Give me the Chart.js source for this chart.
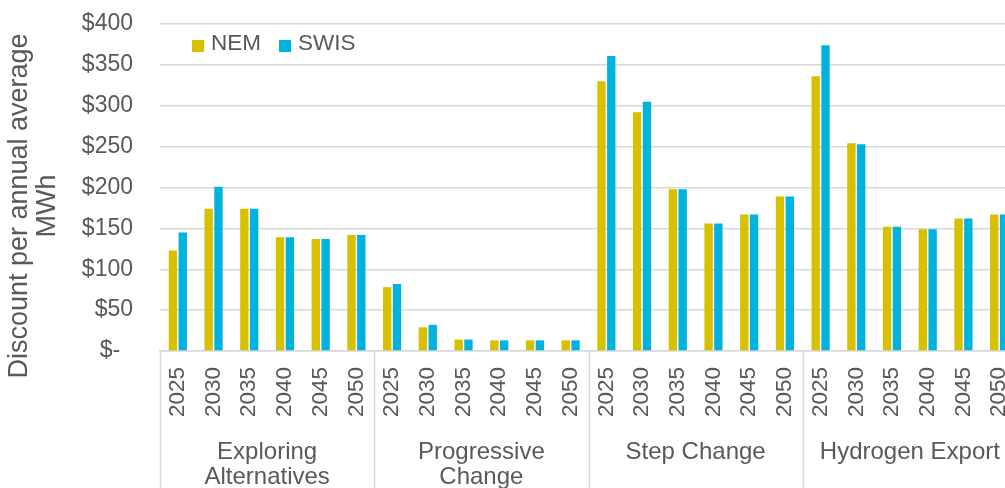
<!DOCTYPE html>
<html>
<head>
<meta charset="utf-8">
<script src="https://cdn.jsdelivr.net/npm/chart.js@4.4.1/dist/chart.umd.min.js"></script>
<style>
  html, body { margin: 0; padding: 0; background: #fff; overflow: hidden; }
  #wrap { width: 1017px; height: 494px; }
</style>
</head>
<body>
<div id="wrap"><canvas id="barPlot" width="1017" height="494"></canvas></div>
<script>
// Scenarios and the years shown under each one
const groups = [['Exploring', 'Alternatives'], ['Progressive', 'Change'], 'Step Change', 'Hydrogen Export']
const years = ['2025', '2030', '2035', '2040', '2045', '2050']

// Discount per annual average MWh, one value per scenario/year
const nem = [123, 174, 174, 139, 137, 142,
             78, 29, 14, 13, 13, 13,
             330, 292, 198, 156, 167, 189,
             336, 254, 152, 149, 162, 167]
const swis = [145, 201, 174, 139, 137, 142,
              82, 32, 14, 13, 13, 13,
              361, 305, 198, 156, 167, 189,
              374, 253, 152, 149, 162, 167]

const yTicks = [0, 50, 100, 150, 200, 250, 300, 350, 400]
const yTitle = ['Discount per annual average', 'MWh']

const textColor = '#595959'
const lineColor = '#d9d9d9'
const fontFamily = '"Liberation Sans", Arial, sans-serif'

const labels = groups.flatMap(() => years)

// Vertical separators between scenarios, under the axis
const separators = {
    id: 'separators',
    afterDraw (chart) {
        const x = chart.scales.x
        const ctx = chart.ctx
        const top = chart.chartArea.bottom
        ctx.save()
        ctx.strokeStyle = lineColor
        ctx.lineWidth = 1.5
        for (let g = 0; g <= groups.length; g++) {
            const px = Math.round(x.getPixelForValue(g * years.length - 0.5)) + 0.5
            ctx.beginPath()
            ctx.moveTo(px, top)
            ctx.lineTo(px, chart.height)
            ctx.stroke()
        }
        ctx.restore()
    }
}

// Legend drawn inside the plot, top left
const innerLegend = {
    id: 'innerLegend',
    afterDraw (chart) {
        const ctx = chart.ctx
        ctx.save()
        ctx.font = '22.5px ' + fontFamily
        ctx.textBaseline = 'middle'
        let px = 192
        const py = 46
        chart.data.datasets.forEach((ds) => {
            ctx.fillStyle = ds.backgroundColor
            ctx.fillRect(px, py - 6, 12, 12)
            ctx.fillStyle = textColor
            ctx.fillText(ds.label, px + 19, py - 2)
            px += 19 + ctx.measureText(ds.label).width + 18
        })
        ctx.restore()
    }
}

// Rotated y axis title, two lines
const yAxisTitle = {
    id: 'yAxisTitle',
    afterDraw (chart) {
        const ctx = chart.ctx
        ctx.save()
        ctx.font = '27px ' + fontFamily
        ctx.fillStyle = textColor
        ctx.textAlign = 'center'
        ctx.textBaseline = 'middle'
        ctx.translate(20, 206)
        ctx.rotate(-Math.PI / 2)
        yTitle.forEach((line, i) => ctx.fillText(line, 0, i * 28))
        ctx.restore()
    }
}

new Chart(document.getElementById('barPlot'), {
    type: 'bar',
    data: {
        labels: labels,
        datasets: [
            { label: 'NEM', data: nem, backgroundColor: '#d6c000' },
            { label: 'SWIS', data: swis, backgroundColor: '#00b2de' }
        ]
    },
    options: {
        responsive: false,
        animation: false,
        categoryPercentage: 0.55,
        barPercentage: 0.85,
        layout: { padding: { top: 24, right: 0, left: 0, bottom: 0 } },
        plugins: {
            legend: { display: false },
            tooltip: { enabled: false }
        },
        scales: {
            y: {
                min: 0,
                max: 400,
                // fixed axis width, and no extra room above/below for the tick padding
                afterFit (scale) {
                    scale.width = 160
                    scale.paddingTop = 0
                    scale.paddingBottom = 0
                },
                afterBuildTicks (scale) { scale.ticks = yTicks.map((v) => ({ value: v })) },
                border: { display: false },
                grid: { color: lineColor, lineWidth: 1.5, drawTicks: false },
                ticks: {
                    color: textColor,
                    font: { family: fontFamily, size: 23 },
                    padding: 27,
                    callback: (v) => v === 0 ? '$-  ' : '$' + v
                }
            },
            x: {
                afterFit (scale) {
                    scale.paddingLeft = 0
                    scale.paddingRight = 0
                    scale.height = 80
                },
                border: { display: true, color: lineColor, width: 1.5 },
                grid: { display: false },
                ticks: {
                    autoSkip: false,
                    minRotation: 90,
                    maxRotation: 90,
                    padding: 8,
                    color: textColor,
                    font: { family: fontFamily, size: 22.5 }
                }
            },
            x2: {
                type: 'category',
                position: 'bottom',
                labels: groups,
                offset: true,
                afterFit (scale) {
                    scale.paddingLeft = 0
                    scale.paddingRight = 0
                    scale.height = 63
                },
                border: { display: false },
                grid: { display: false },
                ticks: {
                    padding: 1,
                    color: textColor,
                    font: { family: fontFamily, size: 24, lineHeight: 1.05 }
                }
            }
        }
    },
    plugins: [separators, innerLegend, yAxisTitle]
})
</script>
</body>
</html>
